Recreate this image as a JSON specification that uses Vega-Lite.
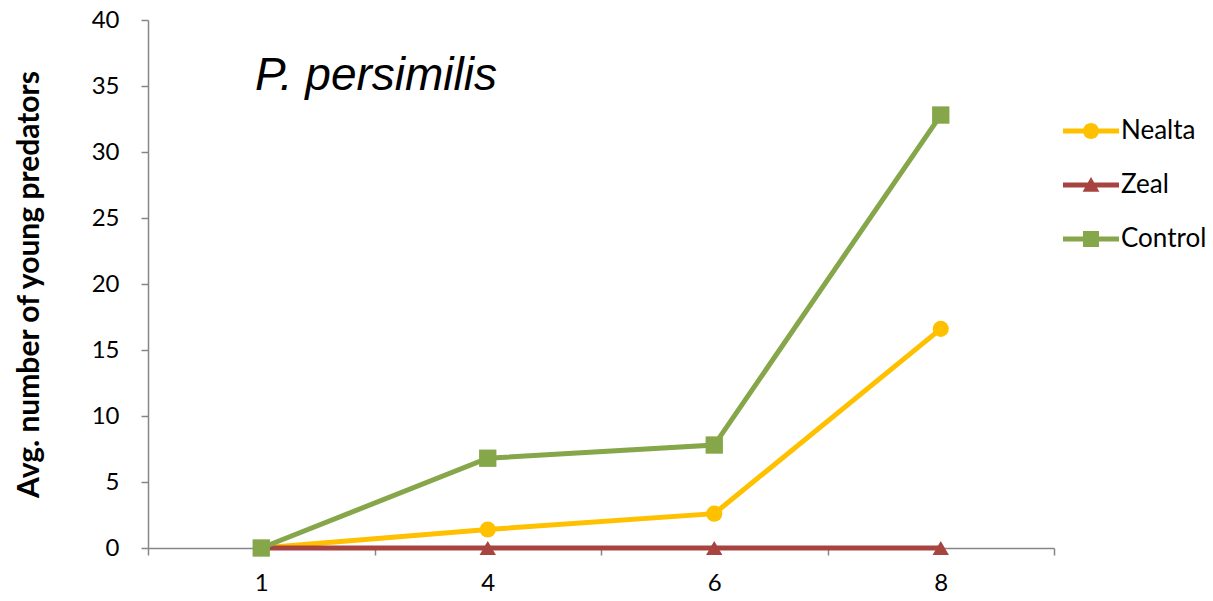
{
  "$schema": "https://vega.github.io/schema/vega-lite/v6.json",
  "autosize": {"type": "none"},
  "width": 906,
  "height": 528,
  "padding": {"left": 148, "top": 20, "right": 159, "bottom": 53},
  "background": "white",
  "title": {
    "text": "P. persimilis",
    "font": "Liberation Sans",
    "fontStyle": "italic",
    "fontWeight": "normal",
    "fontSize": 46,
    "color": "black",
    "anchor": "start",
    "frame": "group",
    "orient": "top",
    "baseline": "alphabetic",
    "offset": 0,
    "dx": 107,
    "dy": 128
  },
  "config": {
    "view": {"stroke": null},
    "font": "Lato"
  },
  "data": {
    "values": [
      {"day": "1", "series": "Nealta", "value": 0},
      {"day": "4", "series": "Nealta", "value": 1.4},
      {"day": "6", "series": "Nealta", "value": 2.6},
      {"day": "8", "series": "Nealta", "value": 16.6},
      {"day": "1", "series": "Zeal", "value": 0},
      {"day": "4", "series": "Zeal", "value": 0},
      {"day": "6", "series": "Zeal", "value": 0},
      {"day": "8", "series": "Zeal", "value": 0},
      {"day": "1", "series": "Control", "value": 0},
      {"day": "4", "series": "Control", "value": 6.8},
      {"day": "6", "series": "Control", "value": 7.8},
      {"day": "8", "series": "Control", "value": 32.8}
    ]
  },
  "encoding": {
    "x": {
      "field": "day",
      "type": "ordinal",
      "sort": ["1", "4", "6", "8"],
      "scale": {"type": "band", "paddingInner": 0, "paddingOuter": 0},
      "axis": {
        "title": null,
        "labelAngle": 0,
        "tickBand": "extent",
        "domainColor": "#868686",
        "domainWidth": 1.5,
        "tickColor": "#868686",
        "tickWidth": 1.5,
        "tickSize": 7,
        "labelFont": "Lato",
        "labelFontSize": 24,
        "labelColor": "black",
        "labelPadding": 16,
        "grid": false
      }
    },
    "y": {
      "field": "value",
      "type": "quantitative",
      "scale": {"domain": [0, 40], "nice": false, "zero": true},
      "axis": {
        "title": "Avg. number of young predators",
        "titleFont": "Lato",
        "titleFontSize": 30,
        "titleFontWeight": "bold",
        "titleColor": "black",
        "titlePadding": 47,
        "values": [0, 5, 10, 15, 20, 25, 30, 35, 40],
        "domainColor": "#868686",
        "domainWidth": 1.5,
        "tickColor": "#868686",
        "tickWidth": 1.5,
        "tickSize": 7,
        "labelFont": "Lato",
        "labelFontSize": 24,
        "labelColor": "black",
        "labelPadding": 22,
        "grid": false
      }
    }
  },
  "layer": [
    {
      "transform": [{"filter": "datum.series === 'Nealta'"}],
      "mark": {"type": "line", "strokeWidth": 5, "color": "#FFC000"}
    },
    {
      "transform": [{"filter": "datum.series === 'Zeal'"}],
      "mark": {"type": "line", "strokeWidth": 5, "color": "#A84440"}
    },
    {
      "transform": [{"filter": "datum.series === 'Control'"}],
      "mark": {"type": "line", "strokeWidth": 5, "color": "#86A64A"}
    },
    {
      "transform": [{"filter": "datum.series === 'Nealta'"}],
      "mark": {"type": "point", "shape": "circle", "filled": true, "size": 260, "opacity": 1, "color": "#FFC000"}
    },
    {
      "transform": [{"filter": "datum.series === 'Zeal'"}],
      "mark": {"type": "point", "shape": "triangle-up", "filled": true, "size": 270, "opacity": 1, "color": "#A84440"}
    },
    {
      "transform": [{"filter": "datum.series === 'Control'"}],
      "mark": {"type": "point", "shape": "square", "filled": true, "size": 300, "opacity": 1, "color": "#86A64A"}
    },
    {
      "mark": {"type": "point", "filled": true, "opacity": 0},
      "encoding": {
        "shape": {
          "field": "series",
          "type": "nominal",
          "scale": {
            "domain": ["Nealta", "Zeal", "Control"],
            "range": [
              "M-3.5,-0.3H3.5V0.3H-3.5Z M1,0A1,1 0 1,1 -1,0A1,1 0 1,1 1,0Z",
              "M-3.5,-0.3H3.5V0.3H-3.5Z M0,-1L1.05,0.85H-1.05Z",
              "M-3.5,-0.3H3.5V0.3H-3.5Z M-1,-1H1V1H-1Z"
            ]
          },
          "legend": {
            "title": null,
            "orient": "none",
            "legendX": 930,
            "legendY": 98,
            "padding": 0,
            "symbolSize": 256,
            "symbolStrokeWidth": 0,
            "labelOffset": 17,
            "labelFont": "Lato",
            "labelFontSize": 26,
            "labelColor": "black",
            "rowPadding": 28,
            "encode": {"symbols": {"update": {"opacity": {"value": 1}, "fillOpacity": {"value": 1}}}}
          }
        },
        "color": {
          "field": "series",
          "type": "nominal",
          "scale": {
            "domain": ["Nealta", "Zeal", "Control"],
            "range": ["#FFC000", "#A84440", "#86A64A"]
          },
          "legend": {
            "title": null,
            "orient": "none",
            "legendX": 930,
            "legendY": 98,
            "padding": 0,
            "symbolSize": 256,
            "symbolStrokeWidth": 0,
            "labelOffset": 17,
            "labelFont": "Lato",
            "labelFontSize": 26,
            "labelColor": "black",
            "rowPadding": 28,
            "encode": {"symbols": {"update": {"opacity": {"value": 1}, "fillOpacity": {"value": 1}}}}
          }
        }
      }
    }
  ]
}
